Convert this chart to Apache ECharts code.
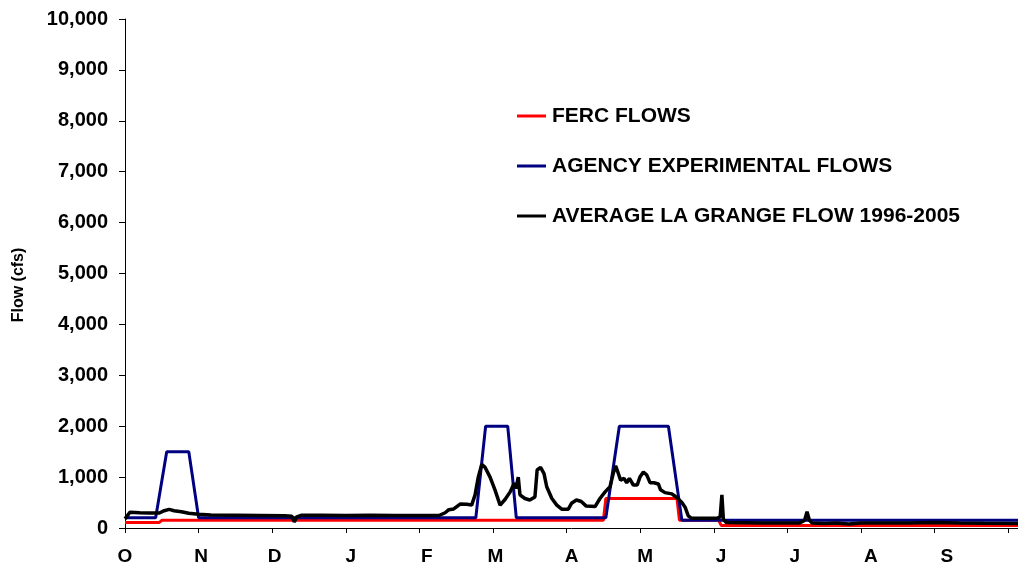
<!DOCTYPE html>
<html>
<head>
<meta charset="utf-8">
<script src="https://cdn.jsdelivr.net/npm/echarts@6/dist/echarts.min.js"></script>
<style>
html,body{margin:0;padding:0;background:#fff;}
#chart{width:1018px;height:567px;}
</style>
</head>
<body>
<div id="chart"></div>
<script>
// Water-year day index (0 = Oct 1) and flows (cfs)
const monthLabels = ['O','N','D','J','F','M','A','M','J','J','A','S'];
const monthStartDays = [0,31,61,92,123,151,182,212,243,273,304,335];
const tickDays = [0,30,60,90,120,150,180,210,240,270,300,330,360];
const yTicks = [0,1000,2000,3000,4000,5000,6000,7000,8000,9000,10000];

const fercDays   = [0, 14, 15, 195, 196, 225, 226, 242, 243, 364];
const fercValues = [110, 110, 150, 150, 580, 580, 150, 150, 50, 50];

const agencyDays   = [0, 12.5, 17, 26, 30, 143, 147, 156, 159.5, 196, 201.5, 221.5, 227, 364];
const agencyValues = [200, 200, 1500, 1500, 200, 200, 2000, 2000, 200, 200, 2000, 2000, 150, 150];

const avgDays = [0,2,6,10,14,16,18,20,23,26,28,30,35,45,55,65,68,69,70,72,80,90,100,110,120,128,
  130.5,132,134,136.6,139.3,141.3,142.7,144,145.4,146.8,148.8,150.8,152.9,154.9,157,158.6,159.4,160.3,161,
  163,165,167.1,168,169.4,170.8,171.9,174,176,178,180.7,182,184,186,188,191.6,193.6,195.7,197.7,199,200,
  201.1,202,203.4,204.5,205.6,207.2,208.8,209.9,211.3,212.7,214,215.6,217.4,218.3,220.1,222.9,224.9,227,
  228.3,229.6,231,235.7,241.2,242.6,243.3,243.9,245,260,275,277,278,279,280,285,290,295,300,320,330,340,350,364];
const avgValues = [180,310,300,295,295,340,365,340,320,290,280,270,255,250,245,240,230,120,220,250,250,245,250,245,245,245,
  300,360,375,470,465,450,650,1000,1250,1190,1000,750,450,560,710,880,780,1000,650,
  580,550,610,1140,1190,1070,810,580,450,370,370,485,550,520,430,420,580,710,810,1070,1220,
  1070,940,975,890,975,845,845,1000,1100,1040,890,890,865,750,695,670,600,500,
  410,240,190,190,190,220,650,170,110,100,100,150,320,150,100,90,100,80,100,100,110,100,95,90];

const zip = (xs, ys) => xs.map((x, i) => [x, ys[i]]);
const FONT = 'Liberation Sans, Arial, sans-serif';

const chart = echarts.init(document.getElementById('chart'), null, {renderer: 'canvas'});
chart.setOption({
  animation: false,
  backgroundColor: '#fff',
  grid: {left: 125, right: 0, top: 19, bottom: 39, containLabel: false},
  legend: {
    orient: 'vertical',
    left: 517,
    top: 105.5,
    padding: 0,
    itemWidth: 29,
    itemHeight: 3,
    itemGap: 29,
    icon: 'rect',
    textStyle: {fontFamily: FONT, fontWeight: 'bold', fontSize: 21, color: '#000', lineHeight: 21, padding: [0,0,0,1]},
    data: ['FERC FLOWS', 'AGENCY EXPERIMENTAL FLOWS', 'AVERAGE LA GRANGE FLOW 1996-2005']
  },
  graphic: [{
    type: 'text',
    x: 19,
    y: 285,
    rotation: Math.PI / 2,
    style: {
      text: 'Flow (cfs)',
      font: 'bold 16px ' + FONT,
      fill: '#000',
      textAlign: 'center',
      textVerticalAlign: 'middle'
    }
  }],
  xAxis: {
    type: 'value',
    min: 0,
    max: 364,
    axisLine: {show: true, lineStyle: {color: '#000', width: 1}},
    axisTick: {show: true, length: 5, customValues: tickDays, lineStyle: {color: '#000'}},
    splitLine: {show: false},
    axisLabel: {
      customValues: monthStartDays,
      formatter: v => monthLabels[monthStartDays.indexOf(v)] || '',
      fontFamily: FONT, fontWeight: 'bold', fontSize: 19, color: '#000', margin: 19
    }
  },
  yAxis: {
    type: 'value',
    min: 0,
    max: 10000,
    interval: 1000,
    axisLine: {show: true, lineStyle: {color: '#000', width: 1}},
    axisTick: {show: true, length: 6, lineStyle: {color: '#000'}},
    splitLine: {show: false},
    axisLabel: {
      formatter: v => v.toLocaleString('en-US'),
      fontFamily: FONT, fontWeight: 'bold', fontSize: 20, color: '#000', margin: 17
    }
  },
  series: [
    {name: 'FERC FLOWS', type: 'line', showSymbol: false, symbol: 'none', color: '#FF0000',
     lineStyle: {color: '#FF0000', width: 3}, data: zip(fercDays, fercValues)},
    {name: 'AGENCY EXPERIMENTAL FLOWS', type: 'line', showSymbol: false, symbol: 'none', color: '#000080',
     lineStyle: {color: '#000080', width: 3}, data: zip(agencyDays, agencyValues)},
    {name: 'AVERAGE LA GRANGE FLOW 1996-2005', type: 'line', showSymbol: false, symbol: 'none', color: '#000000',
     lineStyle: {color: '#000000', width: 3.5}, data: zip(avgDays, avgValues)}
  ]
});
</script>
</body>
</html>
